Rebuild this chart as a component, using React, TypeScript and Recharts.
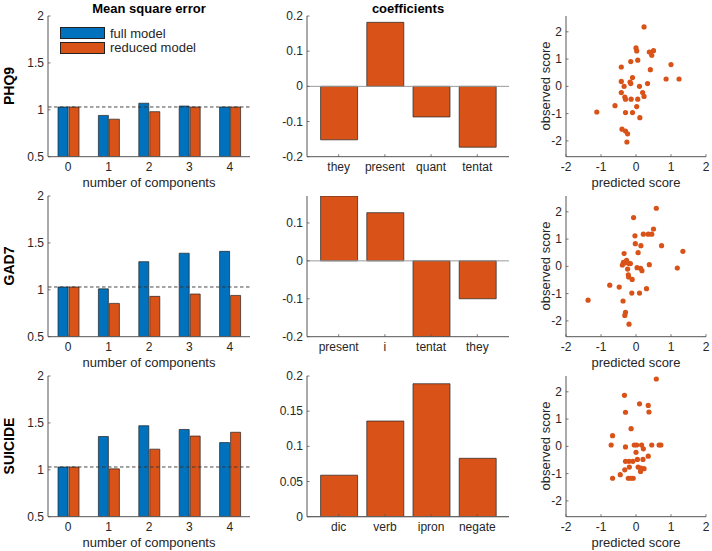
import { BarChart, Bar, XAxis, YAxis, ReferenceLine, ScatterChart, Scatter, Legend } from 'recharts';

// mean square error per number of components
const COMPONENTS = ['0', '1', '2', '3', '4'];
const MSE_TICKS = [0.5, 1, 1.5, 2];
const MSE_BASELINE = 1.03;
const LEGEND_LABELS = ['full model', 'reduced model'];

const PHQ9_FULL = [1.03, 0.94, 1.07, 1.04, 1.03];
const PHQ9_REDUCED = [1.03, 0.9, 0.98, 1.03, 1.03];
const GAD7_FULL = [1.03, 1.01, 1.3, 1.39, 1.41];
const GAD7_REDUCED = [1.03, 0.855, 0.93, 0.955, 0.94];
const SUICIDE_FULL = [1.03, 1.355, 1.47, 1.43, 1.29];
const SUICIDE_REDUCED = [1.03, 1.01, 1.22, 1.36, 1.4];

// coefficients
const PHQ9_WORDS = ['they', 'present', 'quant', 'tentat'];
const PHQ9_COEFS = [-0.152, 0.182, -0.087, -0.173];
const PHQ9_COEF_TICKS = [-0.2, -0.1, 0, 0.1, 0.2];
const GAD7_WORDS = ['present', 'i', 'tentat', 'they'];
const GAD7_COEFS = [0.171, 0.127, -0.2, -0.1];
const GAD7_COEF_TICKS = [-0.2, -0.1, 0, 0.1];
const SUICIDE_WORDS = ['dic', 'verb', 'ipron', 'negate'];
const SUICIDE_COEFS = [0.059, 0.136, 0.189, 0.083];
const SUICIDE_COEF_TICKS = [0, 0.05, 0.1, 0.15, 0.2];

// predicted vs observed scores
const SCORE_TICKS = [-2, -1, 0, 1, 2];
const PHQ9_PRED = [0.23, 0, 0.02, 0.38, 0.5, 0.45, -0.42, -0.15, 0.05, 1.0, 0.41, 0.86, 1.23, -0.1, -0.42, -0.17, -0.15, -0.34, 0.1, 0.33, -0.42, 0.19, 0.23, -0.32, -0.3, -0.14, 0.05, -0.6, 0.02, -1.12, -0.3, -0.1, 0.11, -0.4, -0.3, -0.24, -0.26];
const PHQ9_OBS = [2.18, 1.41, 1.3, 1.26, 1.31, 1.14, 0.71, 0.91, 0.96, 0.8, 0.61, 0.27, 0.27, 0.32, 0.18, 0.16, 0.1, 0, 0, 0.1, -0.23, -0.23, -0.37, -0.39, -0.47, -0.47, -0.47, -0.71, -0.74, -0.94, -0.96, -0.96, -1.15, -1.57, -1.64, -1.74, -2.04];
const GAD7_PRED = [0.58, -0.07, -0.03, 0.21, 0.35, 0.45, 0.5, -0.02, 0.14, 0.73, 1.34, -0.34, 0.06, -0.27, -0.36, -0.39, -0.2, -0.16, -0.3, -0.24, 0.03, 0.13, 0.17, 0.38, 1.18, -0.22, -0.21, -0.11, -0.75, -0.48, 0.3, -0.12, 0.1, -1.37, -0.37, -0.3, -0.32, -0.2];
const GAD7_OBS = [2.13, 1.79, 1.12, 1.18, 1.18, 1.18, 1.37, 0.83, 0.76, 0.76, 0.55, 0.47, 0.5, 0.22, 0.15, 0.05, 0.1, 0.1, 0.13, -0.1, -0.05, -0.07, -0.16, 0.06, -0.06, -0.31, -0.39, -0.48, -0.69, -0.76, -0.82, -0.98, -0.98, -1.24, -1.27, -1.69, -1.8, -2.12];
const SUICIDE_PRED = [0.58, -0.33, 0.1, 0.35, 0.37, -0.3, -0.14, -0.67, -0.71, -0.3, -0.05, 0.02, 0.16, 0.21, 0.45, 0.66, 0.71, 0, -0.3, -0.2, -0.09, 0.04, 0.2, 0.35, -0.32, -0.19, 0.06, 0.14, 0.23, 0.13, -0.45, -0.67, -0.22, -0.15, -0.08];
const SUICIDE_OBS = [2.47, 1.87, 1.56, 1.5, 1.26, 1.25, 0.65, 0.39, 0.05, -0.02, 0.05, 0.05, 0.05, -0.09, 0.05, 0.05, 0.05, -0.22, -0.55, -0.55, -0.55, -0.48, -0.48, -0.36, -0.86, -0.76, -0.76, -0.8, -0.82, -0.92, -1.04, -1.17, -1.17, -1.17, -1.17];

const FONT = '"Liberation Sans", Arial, Helvetica, sans-serif';
const INK = '#262626';
const AXIS = '#555';
const BLUE = '#0072BD';
const ORANGE = '#D95319';
const EDGE = '#222';

const ROWS = [
    { label: 'PHQ9', full: PHQ9_FULL, reduced: PHQ9_REDUCED, words: PHQ9_WORDS, coefs: PHQ9_COEFS, coefTicks: PHQ9_COEF_TICKS, coefDomain: [-0.2, 0.2], pred: PHQ9_PRED, obs: PHQ9_OBS },
    { label: 'GAD7', full: GAD7_FULL, reduced: GAD7_REDUCED, words: GAD7_WORDS, coefs: GAD7_COEFS, coefTicks: GAD7_COEF_TICKS, coefDomain: [-0.2, 0.171], pred: GAD7_PRED, obs: GAD7_OBS },
    { label: 'SUICIDE', full: SUICIDE_FULL, reduced: SUICIDE_REDUCED, words: SUICIDE_WORDS, coefs: SUICIDE_COEFS, coefTicks: SUICIDE_COEF_TICKS, coefDomain: [0, 0.2], pred: SUICIDE_PRED, obs: SUICIDE_OBS },
];

// MATLAB-style ticks: small marks pointing into the plot
function XTick(props: any) {
    const { x, y, payload } = props;
    return (
        <g>
            <line x1={x} y1={y} x2={x} y2={y - 2.5} stroke={AXIS} strokeWidth={0.8} />
            <text x={x} y={y + 10} textAnchor="middle" dominantBaseline="central" fontSize={12} fill={INK} fontFamily={FONT}>
                {payload.value}
            </text>
        </g>
    );
}

function YTick(props: any) {
    const { x, y, payload } = props;
    return (
        <g>
            <line x1={x} y1={y} x2={x + 2.5} y2={y} stroke={AXIS} strokeWidth={0.8} />
            <text x={x - 4} y={y} textAnchor="end" dominantBaseline="central" fontSize={12} fill={INK} fontFamily={FONT}>
                {payload.value}
            </text>
        </g>
    );
}

function LegendBox() {
    return (
        <div style={{ fontFamily: FONT, fontSize: 13, color: INK }}>
            {LEGEND_LABELS.map((label, i) => (
                <div key={label} style={{ display: 'flex', alignItems: 'center', height: 14.5 }}>
                    <span style={{ display: 'inline-block', width: 43, height: 10, background: i === 0 ? BLUE : ORANGE, border: `1px solid ${EDGE}`, marginRight: 5 }} />
                    {label}
                </div>
            ))}
        </div>
    );
}

function MsePanel({ full, reduced, showLegend }: { full: number[]; reduced: number[]; showLegend: boolean }) {
    const data = COMPONENTS.map((name, i) => ({ name, full: full[i], reduced: reduced[i] }));
    return (
        <BarChart width={260} height={200} data={data} margin={{ top: 16, right: 10, bottom: 3.3, left: 0 }} barSize={10} barGap={1}>
            <XAxis dataKey="name" height={40} interval={0} tickSize={0} tickMargin={0} tickLine={false} axisLine={{ stroke: AXIS }} tick={<XTick />} />
            <YAxis width={48} domain={[0.5, 2]} ticks={MSE_TICKS} allowDataOverflow tickSize={0} tickMargin={0} tickLine={false} axisLine={{ stroke: AXIS }} tick={<YTick />} />
            <Bar dataKey="full" fill={BLUE} stroke={EDGE} strokeWidth={0.7} isAnimationActive={false} />
            <Bar dataKey="reduced" fill={ORANGE} stroke={EDGE} strokeWidth={0.7} isAnimationActive={false} />
            <ReferenceLine y={MSE_BASELINE} stroke="#333" strokeDasharray="3.5 2.5" strokeWidth={0.9} />
            {showLegend && (
                <Legend layout="horizontal" verticalAlign="middle" align="center" content={() => <LegendBox />}
                    wrapperStyle={{ position: 'absolute', left: 60, top: 26, width: 160, height: 30 }} />
            )}
        </BarChart>
    );
}

function CoefPanel({ words, coefs, ticks, domain }: { words: string[]; coefs: number[]; ticks: number[]; domain: number[] }) {
    const data = words.map((name, i) => ({ name, value: coefs[i] }));
    return (
        <BarChart width={270} height={200} data={data} margin={{ top: 16, right: 11, bottom: 3.3, left: 0 }} barSize={37}>
            <XAxis dataKey="name" height={40} interval={0} padding={{ left: 8.6, right: 8.6 }} tickSize={0} tickMargin={0} tickLine={false} axisLine={{ stroke: AXIS }} tick={<XTick />} />
            <YAxis width={57} domain={domain} ticks={ticks} allowDataOverflow tickSize={0} tickMargin={0} tickLine={false} axisLine={{ stroke: AXIS }} tick={<YTick />} />
            <Bar dataKey="value" fill={ORANGE} stroke={EDGE} strokeWidth={0.7} isAnimationActive={false} />
            <ReferenceLine y={0} stroke="#9a9a9a" strokeWidth={1} />
        </BarChart>
    );
}

function ScorePanel({ pred, obs }: { pred: number[]; obs: number[] }) {
    const points = pred.map((x, i) => ({ x, y: obs[i] }));
    return (
        <ScatterChart width={212} height={200} margin={{ top: 16, right: 6, bottom: 3.3, left: 0 }}>
            <XAxis type="number" dataKey="x" height={40} domain={[-2, 2]} ticks={SCORE_TICKS} allowDataOverflow tickSize={0} tickMargin={0} tickLine={false} axisLine={{ stroke: AXIS }} tick={<XTick />} />
            <YAxis type="number" dataKey="y" width={66} domain={[-2.58, 2.58]} ticks={SCORE_TICKS} allowDataOverflow tickSize={0} tickMargin={0} tickLine={false} axisLine={{ stroke: AXIS }} tick={<YTick />} />
            <Scatter data={points} fill={ORANGE} isAnimationActive={false}
                shape={(p: any) => <circle cx={p.cx} cy={p.cy} r={2.6} fill={ORANGE} />} />
        </ScatterChart>
    );
}

export default function App() {
    return (
        <div style={{ position: 'absolute', left: 0, top: 0, width: 712, height: 551, background: '#fff', overflow: 'hidden', fontFamily: FONT }}>
            {ROWS.map((row, r) => (
                <div key={row.label}>
                    <div style={{ position: 'absolute', left: 0, top: 180 * r }}>
                        <MsePanel full={row.full} reduced={row.reduced} showLegend={r === 0} />
                    </div>
                    <div style={{ position: 'absolute', left: 250, top: 180 * r }}>
                        <CoefPanel words={row.words} coefs={row.coefs} ticks={row.coefTicks} domain={row.coefDomain} />
                    </div>
                    <div style={{ position: 'absolute', left: 500, top: 180 * r }}>
                        <ScorePanel pred={row.pred} obs={row.obs} />
                    </div>
                </div>
            ))}
            <svg width={712} height={551} style={{ position: 'absolute', left: 0, top: 0, pointerEvents: 'none' }} fontFamily={FONT} fill={INK}>
                <text x={149} y={8} textAnchor="middle" dominantBaseline="central" fontSize={13} fontWeight="bold" fill="#000">Mean square error</text>
                <text x={408} y={8} textAnchor="middle" dominantBaseline="central" fontSize={13} fontWeight="bold" fill="#000">coefficients</text>
                {ROWS.map((row, r) => (
                    <g key={row.label}>
                        <text transform={`translate(9, ${86 + 180 * r}) rotate(-90)`} textAnchor="middle" dominantBaseline="central" fontSize={14} fontWeight="bold" fill="#000">{row.label}</text>
                        <text x={149} y={182 + 180 * r} textAnchor="middle" dominantBaseline="central" fontSize={13}>number of components</text>
                        <text x={636} y={182 + 180 * r} textAnchor="middle" dominantBaseline="central" fontSize={13}>predicted score</text>
                        <text transform={`translate(545, ${86 + 180 * r}) rotate(-90)`} textAnchor="middle" dominantBaseline="central" fontSize={13}>observed score</text>
                    </g>
                ))}
            </svg>
        </div>
    );
}
